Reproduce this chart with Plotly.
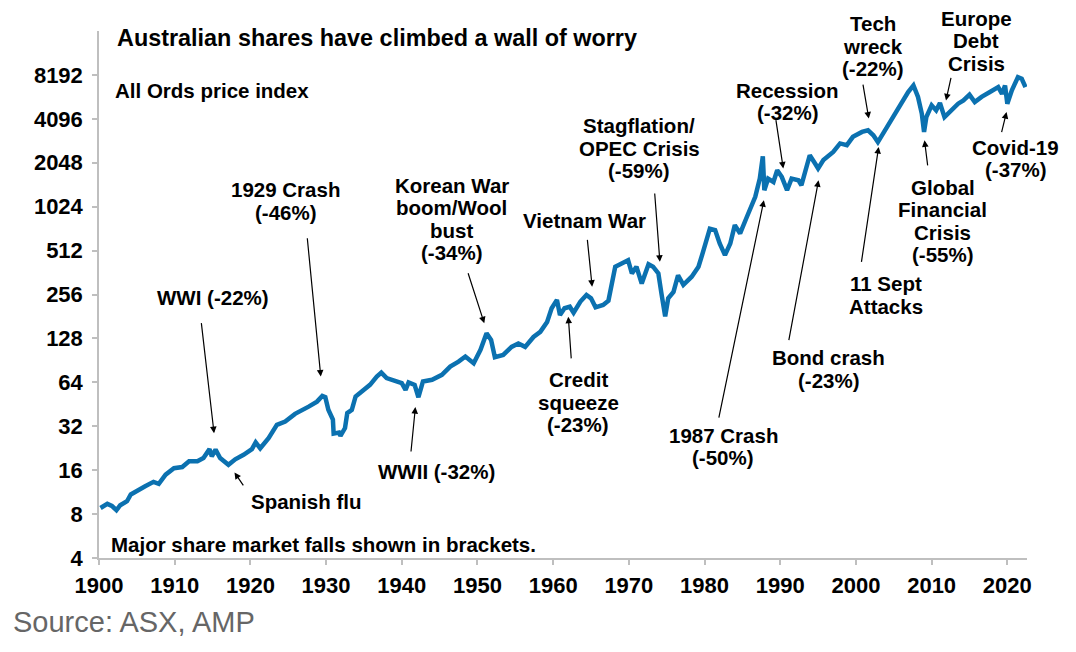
import numpy as np
import plotly.graph_objects as go

# All Ords price index (year, index level)
years = [
    1900.2, 1901.1, 1901.7, 1902.3, 1902.8, 1903.7, 1904.2, 1905.0, 1906.1, 1907.2,
    1907.9, 1908.8, 1909.9, 1911.0, 1911.9, 1913.0, 1913.8, 1914.6, 1914.9, 1915.4,
    1916.0, 1917.1, 1918.0, 1919.1, 1920.2, 1920.7, 1921.3, 1922.4, 1923.5, 1924.6,
    1925.9, 1927.7, 1928.8, 1929.5, 1929.9, 1930.3, 1930.9, 1931.0, 1931.7, 1931.9,
    1932.5, 1932.8, 1933.4, 1933.9, 1935.0, 1935.8, 1936.7, 1937.3, 1938.0, 1939.1,
    1940.0, 1940.5, 1940.9, 1941.7, 1942.2, 1942.8, 1944.0, 1945.3, 1946.4, 1947.5,
    1948.4, 1949.5, 1950.4, 1951.2, 1951.8, 1952.3, 1953.4, 1954.5, 1955.4, 1956.3,
    1957.4, 1958.3, 1959.2, 1959.8, 1960.5, 1960.9, 1961.5, 1962.2, 1962.7, 1963.6,
    1964.4, 1965.0, 1965.6, 1966.6, 1967.3, 1968.2, 1969.3, 1969.9, 1970.4, 1971.0,
    1971.7, 1972.6, 1973.2, 1973.9, 1974.3, 1974.8, 1975.2, 1975.9, 1976.5, 1977.2,
    1978.3, 1979.2, 1979.8, 1980.7, 1981.4, 1982.0, 1982.7, 1983.4, 1984.0, 1984.7,
    1985.6, 1986.7, 1987.3, 1987.7, 1987.9, 1988.4, 1989.1, 1989.6, 1990.2, 1990.9,
    1991.5, 1992.4, 1992.8, 1993.3, 1993.9, 1994.6, 1995.0, 1995.7, 1997.0, 1997.9,
    1998.8, 1999.6, 2000.8, 2001.6, 2002.3, 2002.9, 2003.8, 2004.7, 2005.8, 2006.9,
    2007.6, 2008.2, 2008.7, 2009.0, 2009.3, 2010.0, 2010.6, 2011.1, 2011.7, 2012.4,
    2013.5, 2014.2, 2015.0, 2015.7, 2016.6, 2017.7, 2018.8, 2019.3, 2019.7, 2020.0,
    2020.6, 2021.4, 2021.9, 2022.4,
]
index_level = [
    8.8, 9.4, 9.1, 8.5, 9.2, 9.8, 10.9, 11.6, 12.4, 13.3,
    12.9, 14.9, 16.5, 16.8, 18.4, 18.4, 19.4, 22.3, 19.9, 22.1,
    19.4, 17.4, 19.0, 20.4, 22.3, 24.8, 22.6, 26.5, 32.7, 34.5,
    38.9, 43.6, 47.2, 51.6, 50.6, 41.5, 35.5, 28.5, 29.0, 27.5,
    31.1, 39.4, 41.5, 51.2, 56.9, 61.5, 70, 74.6, 68.4, 64.9,
    63.2, 56.9, 64, 61.5, 50.6, 64.9, 66.6, 72, 82, 88.8,
    96.2, 86.6, 107, 139, 125, 95.3, 98.7, 112, 118, 112,
    131, 142, 166, 206, 235, 185, 206, 211, 192, 229,
    254, 241, 209, 217, 232, 397, 429, 440, 357, 397,
    304, 413, 397, 357, 261, 181, 241, 267, 347, 298,
    339, 397, 501, 724, 708, 573, 477, 573, 765, 671,
    873, 1195, 1594, 2267, 1328, 1594, 1511, 1820, 1640, 1328,
    1594, 1552, 1437, 1820, 2305, 2022, 1870, 2135, 2427, 2778,
    2702, 3083, 3330, 3416, 3160, 2839, 3416, 4096, 5070, 6250,
    6940, 5790, 4450, 3330, 4210, 5070, 4680, 5260, 4210, 4560,
    5200, 5480, 6000, 5330, 5790, 6250, 6750, 6080, 6940, 5200,
    6420, 7910, 7710, 6750,
]

y_ticks = [4, 8, 16, 32, 64, 128, 256, 512, 1024, 2048, 4096, 8192]
x_ticks = list(range(1900, 2021, 10))

# event labels: lines, centre (year, index level)
labels = [
    (["WWI (-22%)"], 1915.1, 243),
    (["1929 Crash", "(-46%)"], 1924.7, 1117),
    (["Korean War", "boom/Wool", "bust", "(-34%)"], 1946.6, 841),
    (["Vietnam War"], 1964.2, 828),
    (["Stagflation/", "OPEC Crisis", "(-59%)"], 1971.4, 2574),
    (["Recession", "(-32%)"], 1991.0, 5397),
    (["Tech", "wreck", "(-22%)"], 2002.2, 12896),
    (["Europe", "Debt", "Crisis"], 2015.9, 14035),
    (["Covid-19", "(-37%)"], 2021.1, 2187),
    (["Global", "Financial", "Crisis", "(-55%)"], 2011.5, 815),
    (["11 Sept", "Attacks"], 2004.0, 254),
    (["1987 Crash", "(-50%)"], 1982.5, 23.2),
    (["Bond crash", "(-23%)"], 1996.4, 79.2),
    (["Spanish flu"], 1927.3, 9.79),
    (["WWII (-32%)"], 1944.6, 15.7),
    (["Credit", "squeeze", "(-23%)"], 1963.3, 46.6),
]

# arrows: tail (year, level) -> head (year, level)
arrows = [
    (1913.5, 166.8, 1915.2, 28.7),
    (1927.5, 636.6, 1929.3, 70.1),
    (1948.7, 366.6, 1950.9, 162.6),
    (1964.5, 620.5, 1965.15, 289.4),
    (1973.4, 1292, 1974.1, 429),
    (1989.4, 4110, 1990.4, 1869),
    (2000.9, 7201, 2001.7, 4110),
    (2012.6, 8000, 2011.9, 5480),
    (2019.2, 3245, 2019.9, 4560),
    (2009.5, 1918, 2009.06, 2919),
    (2000.7, 418.5, 2003.0, 2627),
    (1981.85, 35.8, 1987.84, 1135),
    (1991.1, 121.7, 1995.06, 1554),
    (1919.2, 12.28, 1917.9, 15.45),
    (1941.2, 20.98, 1941.8, 43.3),
    (1962.4, 91.2, 1962.0, 180.4),
]

FONT = "Liberation Sans, Arial, sans-serif"

fig = go.Figure(
    data=go.Scatter(
        x=years,
        y=index_level,
        mode="lines",
        line=dict(color="#0B71B0", width=4.5),
        hoverinfo="skip",
    )
)

annotations = []
for lines, yr, lvl in labels:
    n = len(lines)
    for i, t in enumerate(lines):
        annotations.append(dict(
            x=yr, y=np.log10(lvl), xref="x", yref="y",
            text=t, showarrow=False, xanchor="center", yanchor="middle",
            yshift=-(i - (n - 1) / 2) * 22.5,
            font=dict(family=FONT, size=20.5, color="black", weight="bold"),
        ))

for x0, y0, x1, y1 in arrows:
    annotations.append(dict(
        x=x1, y=np.log10(y1), ax=x0, ay=np.log10(y0),
        xref="x", yref="y", axref="x", ayref="y",
        text="", showarrow=True, arrowhead=2, arrowsize=1.1,
        arrowwidth=1.2, arrowcolor="black", standoff=0, startstandoff=0,
    ))

annotations += [
    dict(x=0.0174, y=0.987, xref="paper", yref="paper", xanchor="left", yanchor="middle",
         text="Australian shares have climbed a wall of worry", showarrow=False,
         font=dict(family=FONT, size=23.4, color="black", weight="bold")),
    dict(x=0.0156, y=0.887, xref="paper", yref="paper", xanchor="left", yanchor="middle",
         text="All Ords price index", showarrow=False,
         font=dict(family=FONT, size=20.5, color="black", weight="bold")),
    dict(x=0.0108, y=0.0256, xref="paper", yref="paper", xanchor="left", yanchor="middle",
         text="Major share market falls shown in brackets.", showarrow=False,
         font=dict(family=FONT, size=20.5, color="black", weight="bold")),
    dict(x=-0.095, y=-0.1208, xref="paper", yref="paper", xanchor="left", yanchor="middle",
         text="Source: ASX, AMP", showarrow=False,
         font=dict(family=FONT, size=29, color="#666666")),
]

# the page body adds an 8px margin, so the figure is 16px smaller than the window
fig.update_layout(
    width=1060, height=636,
    margin=dict(l=90.5, r=41, t=22.5, b=85.5),
    paper_bgcolor="white", plot_bgcolor="white",
    showlegend=False,
    annotations=annotations,
    xaxis=dict(
        range=[1900, 2022.6], tickvals=x_ticks, ticktext=[str(v) for v in x_ticks],
        showgrid=False, zeroline=False, showline=True, linecolor="#BFBFBF", linewidth=1.5,
        ticks="outside", ticklen=5, tickcolor="#BFBFBF", tickwidth=1.5,
        ticklabelstandoff=2,
        tickfont=dict(family=FONT, size=22, color="black", weight="bold"),
    ),
    yaxis=dict(
        type="log", range=[np.log10(4), np.log10(16384)],
        tickvals=y_ticks, ticktext=[str(v) for v in y_ticks],
        showgrid=False, zeroline=False, showline=True, linecolor="#BFBFBF", linewidth=1.5,
        ticks="outside", ticklen=5, tickcolor="#BFBFBF", tickwidth=1.5,
        ticklabelstandoff=5,
        tickfont=dict(family=FONT, size=22, color="black", weight="bold"),
    ),
)

fig.write_html("out.html")
